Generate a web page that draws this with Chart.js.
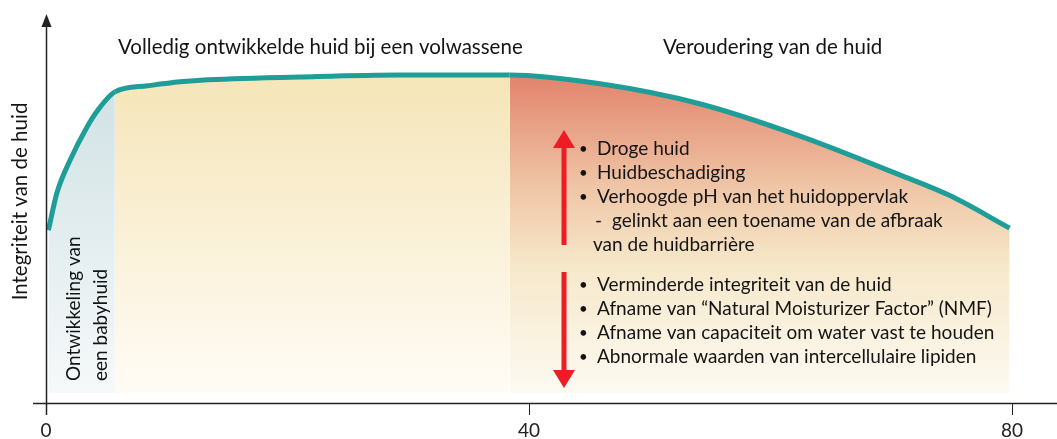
<!DOCTYPE html>
<html>
<head>
<meta charset="utf-8">
<script src="https://cdn.jsdelivr.net/npm/chart.js@4.4.1/dist/chart.umd.min.js"></script>
<style>
  html, body { margin: 0; padding: 0; background: #fff; }
  #wrap { width: 1057px; height: 439px; }
</style>
</head>
<body>
<div id="wrap"><canvas id="skin"></canvas></div>
<script>
// --- data ------------------------------------------------------
const ageX      = [0.2, 0.9, 2.0, 3.4, 4.3, 5.7, 8.4, 11.1, 12.8, 21.0, 29.3, 38.4, 45.9, 54.2, 62.4, 70.7, 74.9, 79.8];
const integrity = [42.9, 52.1, 60.3, 68.5, 72.7, 77.2, 78.7, 79.7, 80.1, 80.9, 81.4, 81.4, 79.2, 74.2, 66.3, 56.6, 51.4, 43.4];
const zoneEdges = [0, 5.7, 38.4, 80];   // baby / adult / ageing
const fillBase  = 2.5;
const xTicks    = [0, 40, 80];

const yTitle     = 'Integriteit van de huid';
const zoneTitles = ['Volledig ontwikkelde huid bij een volwassene', 'Veroudering van de huid'];
const babyLabel  = ['Ontwikkeling van', 'een babyhuid'];
const riseNotes  = ['Droge huid', 'Huidbeschadiging', 'Verhoogde pH van het huidoppervlak'];
const riseSub    = ['gelinkt aan een toename van de afbraak', 'van de huidbarrière'];
const dropNotes  = [
  'Verminderde integriteit van de huid',
  'Afname van \u201cNatural Moisturizer Factor\u201d (NMF)',
  'Afname van capaciteit om water vast te houden',
  'Abnormale waarden van intercellulaire lipiden'
];

// gradient stops per zone (top -> bottom)
const zoneStops = [
  [[0, '#cfe1e4'], [1, '#f6f9fa']],
  [[0, '#f5e5b8'], [1, '#fffcf6']],
  [[0, '#e2836b'], [0.35, '#efc5a6'], [0.6, '#f6e8ca'], [1, '#fdfaf2']]
];

const TEXT = '#141414';
const FONT = 'Lato, "Open Sans", sans-serif';

function zoneOf(x) {
  let z = 0;
  while (z < zoneEdges.length - 2 && x >= zoneEdges[z + 1]) z++;
  return z;
}

// one gradient object per zone, so segments only split at zone edges
let gradCache = { key: '', list: [] };
function zoneFill(chart, z) {
  const { chartArea, scales } = chart;
  if (!chartArea || !scales.y) return zoneStops[z][0][1];
  const top = scales.y.getPixelForValue(Math.max(...integrity));
  const bot = scales.y.getPixelForValue(fillBase);
  const key = `${top}|${bot}`;
  if (gradCache.key !== key) {
    gradCache = {
      key,
      list: zoneStops.map(stops => {
        const g = chart.ctx.createLinearGradient(0, top, 0, bot);
        stops.forEach(([o, c]) => g.addColorStop(o, c));
        return g;
      })
    };
  }
  return gradCache.list[z];
}

// axes with arrows, red arrows and all the annotation text
const decorPlugin = {
  id: 'decor',
  afterDatasetsDraw(chart) {
    const { ctx, chartArea: a } = chart;
    ctx.save();

    // axes
    ctx.strokeStyle = '#222';
    ctx.fillStyle = '#222';
    ctx.lineWidth = 1.5;
    ctx.beginPath();
    ctx.moveTo(33, a.bottom + 0.5);
    ctx.lineTo(chart.width, a.bottom + 0.5);
    ctx.moveTo(a.left + 0.5, a.bottom + 12);
    ctx.lineTo(a.left + 0.5, 26);
    ctx.stroke();
    ctx.beginPath();
    ctx.moveTo(a.left + 0.5, 14);
    ctx.lineTo(a.left - 4.5, 27);
    ctx.lineTo(a.left + 5.5, 27);
    ctx.closePath();
    ctx.fill();

    // red arrows
    const ax = 564;
    ctx.fillStyle = '#ee1c25';
    ctx.fillRect(ax - 2.5, 146, 5, 99);
    ctx.beginPath();
    ctx.moveTo(ax, 130); ctx.lineTo(ax - 11, 148); ctx.lineTo(ax + 11, 148);
    ctx.closePath(); ctx.fill();
    ctx.fillRect(ax - 2.5, 272, 5, 100);
    ctx.beginPath();
    ctx.moveTo(ax, 388); ctx.lineTo(ax - 11, 370); ctx.lineTo(ax + 11, 370);
    ctx.closePath(); ctx.fill();

    // zone titles
    ctx.fillStyle = TEXT;
    ctx.textBaseline = 'middle';
    ctx.textAlign = 'left';
    ctx.font = `20.5px ${FONT}`;
    ctx.fillText(zoneTitles[0], 118, 47);
    ctx.fillText(zoneTitles[1], 663, 47);

    // baby label, rotated
    ctx.font = `19px ${FONT}`;
    [74, 101].forEach((x, i) => {
      ctx.save();
      ctx.translate(x, 381);
      ctx.rotate(-Math.PI / 2);
      ctx.fillText(babyLabel[i], 0, 0);
      ctx.restore();
    });

    // bullet lists
    ctx.font = `19px ${FONT}`;
    const bullet = (y, txt) => {
      ctx.font = `15px ${FONT}`;
      ctx.fillText('\u2022', 579, y);
      ctx.font = `19px ${FONT}`;
      ctx.fillText(txt, 597, y);
    };
    riseNotes.forEach((t, i) => bullet(149 + i * 24, t));
    ctx.fillText('-', 595, 221);
    ctx.fillText(riseSub[0], 612, 221);
    ctx.fillText(riseSub[1], 593, 245);
    dropNotes.forEach((t, i) => bullet(285 + i * 24, t));

    ctx.restore();
  }
};

new Chart(document.getElementById('skin').getContext('2d'), {
  type: 'line',
  data: {
    datasets: [{
      data: ageX.map((x, i) => ({ x, y: integrity[i] })),
      borderColor: '#1f9d98',
      borderWidth: 5,
      borderCapStyle: 'butt',
      borderJoinStyle: 'round',
      pointRadius: 0,
      cubicInterpolationMode: 'monotone',
      fill: { value: fillBase },
      backgroundColor: zoneStops[1][0][1],
      segment: {
        backgroundColor: (ctx) => zoneFill(ctx.chart, zoneOf(ageX[ctx.p0DataIndex]))
      }
    }]
  },
  options: {
    responsive: true,
    maintainAspectRatio: false,
    animation: false,
    events: [],
    layout: { padding: { left: 0, right: 45, top: 0, bottom: 0 } },
    scales: {
      x: {
        type: 'linear',
        min: 0,
        max: 80,
        afterBuildTicks: (scale) => { scale.ticks = xTicks.map(v => ({ value: v })); },
        afterFit: (scale) => { scale.height = 36; },
        border: { display: false },
        grid: { drawOnChartArea: false, drawTicks: true, tickLength: 12, color: '#222', lineWidth: 1 },
        ticks: { color: '#222', padding: 4, maxRotation: 0, font: { family: FONT, size: 19 } }
      },
      y: {
        min: 0,
        max: 100,
        afterFit: (scale) => { scale.width = 46; },
        border: { display: false },
        grid: { display: false },
        ticks: { display: false },
        title: {
          display: true,
          text: yTitle,
          color: TEXT,
          padding: { top: 8, bottom: 0 },
          font: { family: FONT, size: 20.5 }
        }
      }
    },
    plugins: {
      legend: { display: false },
      tooltip: { enabled: false }
    }
  },
  plugins: [decorPlugin]
});
</script>
</body>
</html>
